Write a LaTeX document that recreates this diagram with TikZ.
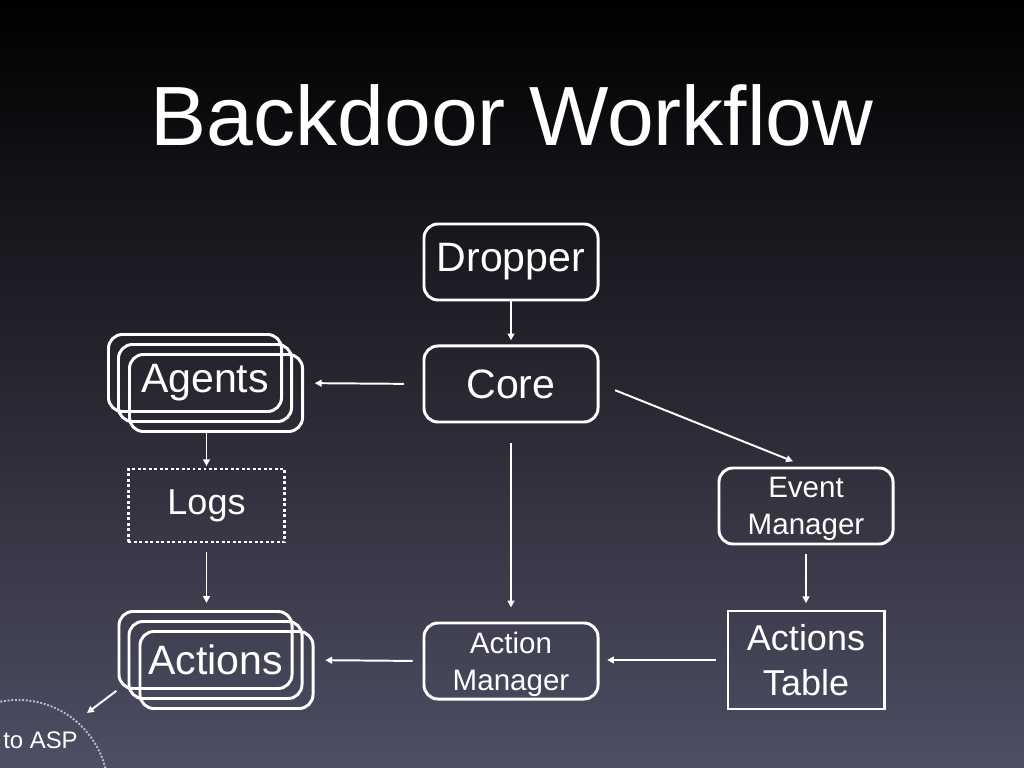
\documentclass[tikz,border=0pt]{standalone}
\usepackage{fontspec}
\setmainfont{Liberation Sans}
\usetikzlibrary{arrows.meta, positioning, calc}
\definecolor{slidebottom}{RGB}{78,78,100}
\definecolor{slidemid}{RGB}{26,26,40}
\definecolor{aspgray}{RGB}{185,185,200}

\begin{document}
\begin{tikzpicture}[
  x=0.025cm, y=-0.025cm,
  box/.style={
    draw=white,
    line width=2.1pt,
    rounded corners=0.35cm,
    minimum width=4.35cm,
    minimum height=1.9cm,
    inner sep=0pt,
    align=center,
    text=white,
    font=\fontsize{29.2pt}{35pt}\selectfont
  },
  stack/.style={
    box,
    minimum width=4.325cm,
    minimum height=1.925cm
  },
  smallbox/.style={
    box,
    text depth=0pt,
    font=\fontsize{21pt}{26.3pt}\selectfont
  },
  logbox/.style={
    box,
    sharp corners,
    dash pattern=on 2.1pt off 1.8pt,
    minimum width=3.9cm,
    minimum height=1.825cm,
    font=\fontsize{25.6pt}{32pt}\selectfont
  },
  tablebox/.style={
    box,
    sharp corners,
    minimum width=3.9cm,
    minimum height=2.45cm,
    font=\fontsize{25.6pt}{32pt}\selectfont
  },
  asp/.style={
    circle,
    draw=aspgray,
    line width=1.4pt,
    dash pattern=on 1.4pt off 1.2pt,
    minimum size=4.5cm
  },
  arrow/.style={-{Triangle[length=4.8pt, width=4.8pt]}, draw=white, line width=1.4pt}
]

% ============================================================
% Slide background
% ============================================================

\useasboundingbox (0,0) rectangle (1024,768);
\clip (0,0) rectangle (1024,768);
\shade[top color=black, middle color=slidemid, bottom color=slidebottom] (0,0) rectangle (1024,768);

\node[font=\fontsize{59.8pt}{64pt}\selectfont, text=white, anchor=base] (title) at (512,146) {Backdoor Workflow};

% ============================================================
% Centre column: dropper, core, action manager
% ============================================================

\node[box] (dropper) at (511,262) {Dropper};
\node[box, below=1.075cm of dropper] (core) {Core};
\node[smallbox, below=4.95cm of core] (actionmgr) {Action\\Manager};

\draw[arrow, shorten >=3pt] (dropper) -- (core);
\draw[arrow, shorten <=14pt, shorten >=10pt] (core) -- (actionmgr);

% ============================================================
% Right column: event manager, actions table
% ============================================================

\node[smallbox] (eventmgr) at (806,506) {Event\\Manager};
\node[tablebox, below=1.6cm of eventmgr] (table) {Actions\\Table};

\draw[arrow, shorten <=12pt, shorten >=10pt] (core.east) -- (eventmgr.north);
\draw[arrow, shorten <=6pt, shorten >=4.5pt] (eventmgr) -- (table);
\draw[arrow, shorten <=7.5pt, shorten >=5.5pt] (table.west) -- (table.west -| actionmgr.east);

% ============================================================
% Left column: agents, logs, actions
% ============================================================

\node[stack] (agents) at (205,383) {Agents};
\node[stack] (agentsback) at ($(agents)+(-10,-10)$) {};
\node[stack] (agentsfront) at ($(agents)+(11,10)$) {};

\node[logbox] (logs) at (206.5,505.5) {Logs};

\node[stack] (actions) at (215.5,660) {Actions};
\node[stack] (actionsback) at ($(actions)+(-10,-10)$) {};
\node[stack] (actionsfront) at ($(actions)+(11,10)$) {};

\draw[arrow, shorten <=13pt, shorten >=15.5pt] (core.west) -- (agents.east);
\draw[arrow, shorten >=1pt] (logs.north |- agentsfront.south) -- (logs.north);
\draw[arrow, shorten <=6pt, shorten >=5pt] (logs.south) -- (logs.south |- actionsback.north);
\draw[arrow, shorten <=7pt, shorten >=15.5pt] (actionmgr.west) -- (actions.east);

% ============================================================
% Hand-off to ASP
% ============================================================

\node[asp] (toasp) at (18,790) {};
\node[text=white, font=\fontsize{17pt}{20pt}\selectfont, anchor=base] (asplabel) at (40.5,748) {to ASP};

\coordinate (asptip) at (87,713);
\draw[arrow, shorten <=1pt] (actionsback.south west) -- (asptip);

\end{tikzpicture}
\end{document}
